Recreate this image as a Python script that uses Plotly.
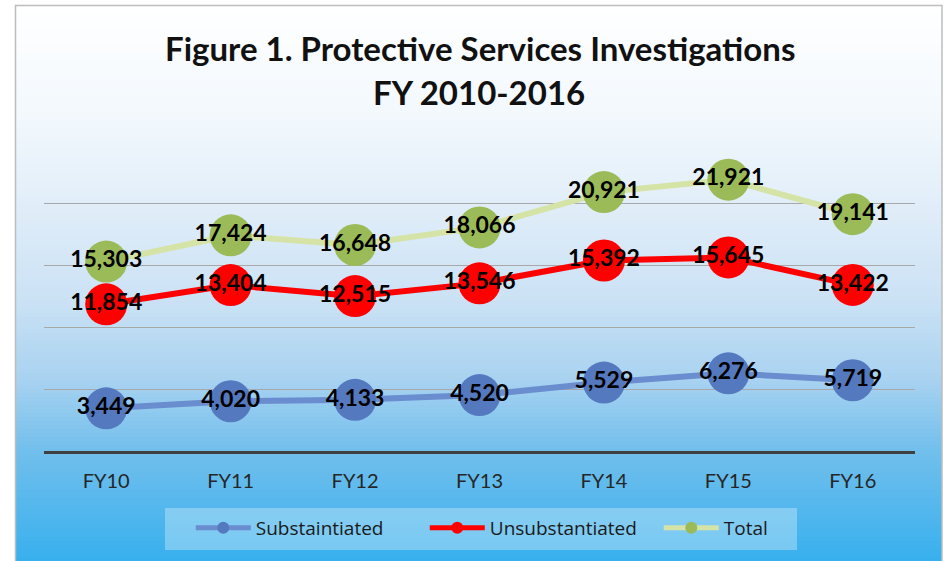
import plotly.graph_objects as go

categories = ["FY10", "FY11", "FY12", "FY13", "FY14", "FY15", "FY16"]
substantiated = [3449, 4020, 4133, 4520, 5529, 6276, 5719]
unsubstantiated = [11854, 13404, 12515, 13546, 15392, 15645, 13422]
total = [15303, 17424, 16648, 18066, 20921, 21921, 19141]

W, H = 949, 561
L, R, T, B = 44, 34, 141, 110
PW, PH = W - L - R, H - T - B

def px_x(x):
    return (x - L) / PW

def px_y(y):
    return (H - B - y) / PH

def fmt(v):
    return f"{v:,}"

FONT = "Lato, Open Sans, sans-serif"
label_font = dict(family=FONT, size=23, color="#000000", weight="bold")

fig = go.Figure()
fig.add_trace(go.Scatter(
    x=categories, y=substantiated, name="Substaintiated", mode="lines+markers+text",
    line=dict(color="#6A8DCF", width=6),
    marker=dict(color="#5479BF", size=42),
    text=[fmt(v) for v in substantiated], textposition="middle center",
    textfont=label_font,
))
fig.add_trace(go.Scatter(
    x=categories, y=unsubstantiated, name="Unsubstantiated", mode="lines+markers+text",
    line=dict(color="#FF0000", width=6),
    marker=dict(color="#FF0000", size=42),
    text=[fmt(v) for v in unsubstantiated], textposition="middle center",
    textfont=label_font,
))
fig.add_trace(go.Scatter(
    x=categories, y=total, name="Total", mode="lines+markers+text",
    line=dict(color="#D6E3A6", width=6),
    marker=dict(color="#9BBB59", size=42),
    text=[fmt(v) for v in total], textposition="middle center",
    textfont=label_font,
))

# gradient background via strips
stops = [(5, (255, 255, 255)), (120, (242, 248, 253)), (200, (226, 238, 249)),
         (300, (203, 226, 245)), (380, (168, 210, 240)), (450, (114, 191, 236)),
         (561, (56, 176, 238))]

def color_at(y):
    for (y0, c0), (y1, c1) in zip(stops[:-1], stops[1:]):
        if y0 <= y <= y1:
            t = (y - y0) / (y1 - y0)
            return tuple(round(a + (b - a) * t) for a, b in zip(c0, c1))
    return stops[-1][1]

shapes = []
step = 4
y = 5
while y < H:
    c = color_at(y + step / 2)
    shapes.append(dict(
        type="rect", xref="paper", yref="paper", layer="below",
        x0=px_x(15), x1=px_x(942), y0=px_y(y), y1=px_y(min(y + step + 1, H)),
        fillcolor=f"rgb({c[0]},{c[1]},{c[2]})", line=dict(width=0),
    ))
    y += step
shapes.append(dict(
    type="rect", xref="paper", yref="paper", layer="below",
    x0=px_x(15.5), x1=px_x(942), y0=px_y(5.5), y1=px_y(H + 2),
    fillcolor="rgba(0,0,0,0)", line=dict(color="#BDBDBD", width=1.5),
))
# legend box
shapes.append(dict(
    type="rect", xref="paper", yref="paper", layer="below",
    x0=px_x(165), x1=px_x(797), y0=px_y(508), y1=px_y(550),
    fillcolor="rgba(255,255,255,0.3)", line=dict(width=0),
))

title_font = dict(family=FONT, size=33, color="#111111", weight="bold")

fig.update_layout(
    width=W, height=H,
    margin=dict(l=L, r=R, t=T, b=B, autoexpand=False),
    paper_bgcolor="white", plot_bgcolor="rgba(0,0,0,0)",
    shapes=shapes,
    annotations=[
        dict(text="Figure 1. Protective Services Investigations", xref="paper", yref="paper",
             x=px_x(480), y=px_y(48), xanchor="center", yanchor="middle", showarrow=False,
             font=title_font),
        dict(text="FY 2010-2016", xref="paper", yref="paper",
             x=px_x(479), y=px_y(92), xanchor="center", yanchor="middle", showarrow=False,
             font=title_font),
    ],
    xaxis=dict(
        range=[-0.5, 6.5], showgrid=False, showline=True, linecolor="#404040", linewidth=3,
        ticks="", ticklabelstandoff=10, zeroline=False,
        tickfont=dict(family=FONT, size=20, color="#262626"),
    ),
    yaxis=dict(
        range=[0, 25050], tickvals=[5000, 10000, 15000, 20000, 25000],
        showgrid=True, gridcolor="#A8A8A8", gridwidth=1,
        showticklabels=False, zeroline=False, showline=False,
    ),
    showlegend=True,
    legend=dict(
        orientation="h", x=px_x(196) - 0.006, xanchor="left", y=px_y(528), yanchor="middle",
        bgcolor="rgba(0,0,0,0)", borderwidth=0, itemsizing="constant",
        font=dict(family="Open Sans, sans-serif", size=19, color="#1A1A1A"),
        itemwidth=55, entrywidth=164, entrywidthmode="pixels",
    ),
)

fig.write_html("out.html", post_script="document.body.style.margin='0';",
               config={"displayModeBar": False})
